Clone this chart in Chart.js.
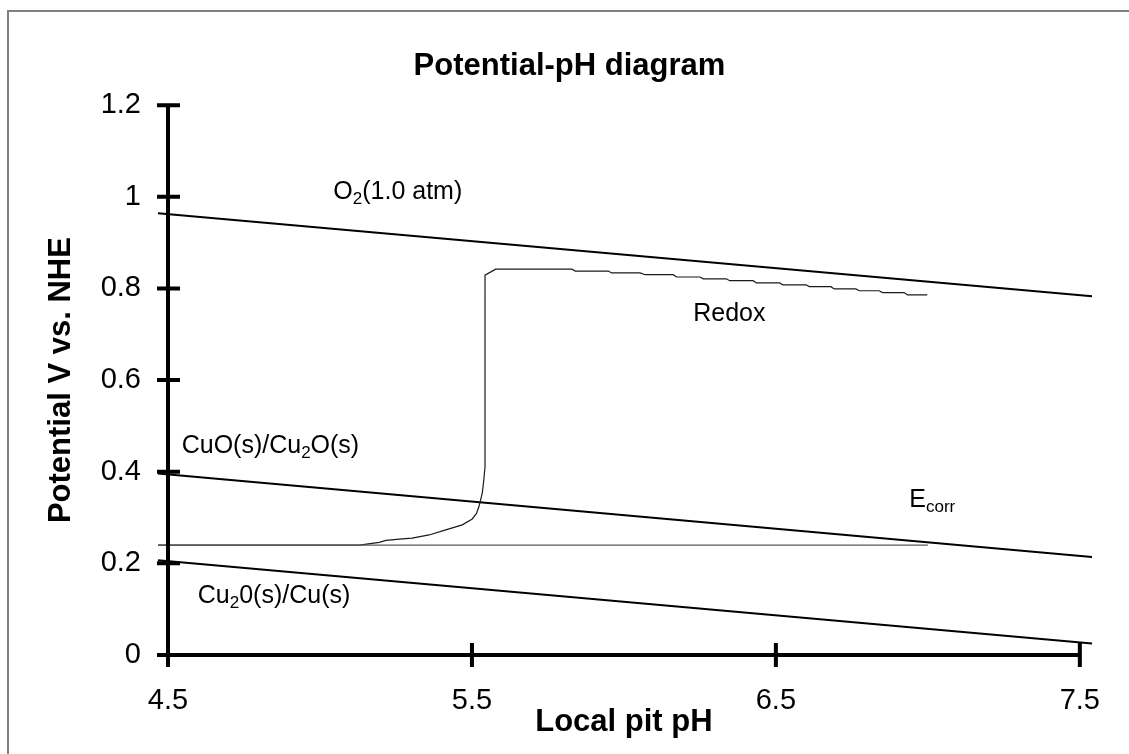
<!DOCTYPE html>
<html>
<head>
<meta charset="utf-8">
<script src="https://cdn.jsdelivr.net/npm/chart.js@4/dist/chart.umd.min.js"></script>
<style>
  html, body { margin: 0; padding: 0; background: #fff; }
  #wrap { position: relative; width: 1129px; height: 754px; }
</style>
</head>
<body>
<div id="wrap"><canvas id="c" width="1129" height="754"></canvas></div>
<script>
// ---------- data ----------
const xTickValues = [4.5, 5.5, 6.5, 7.5];
const xTickLabels = ['4.5', '5.5', '6.5', '7.5'];
const yTickValues = [0, 0.2, 0.4, 0.6, 0.8, 1.0, 1.2];
const yTickLabels = ['0', '0.2', '0.4', '0.6', '0.8', '1', '1.2'];

const o2PH = [4.467, 7.54];
const o2E = [0.964, 0.783];

const cuoPH = [4.467, 7.54];
const cuoE = [0.396, 0.214];

const cu2oPH = [4.467, 7.54];
const cu2oE = [0.207, 0.025];

const ecorrPH = [4.467, 7.0];
const ecorrE = [0.240, 0.240];

const redoxPH = [4.467, 5.130, 5.195, 5.217, 5.261, 5.303, 5.359, 5.414, 5.468, 5.501, 5.515, 5.523,
  5.534, 5.539, 5.543, 5.543, 5.578, 5.829, 5.840, 5.949, 5.959, 6.053, 6.070, 6.162, 6.173,
  6.250, 6.261, 6.337, 6.348, 6.425, 6.436, 6.512, 6.523, 6.599, 6.610, 6.681, 6.692, 6.763,
  6.774, 6.840, 6.851, 6.922, 6.933, 6.998];
const redoxE = [0.240, 0.240, 0.246, 0.250, 0.253, 0.255, 0.262, 0.273, 0.284, 0.297, 0.309, 0.324,
  0.353, 0.382, 0.411, 0.829, 0.842, 0.842, 0.838, 0.838, 0.834, 0.834, 0.830, 0.830, 0.825,
  0.825, 0.821, 0.821, 0.817, 0.817, 0.812, 0.812, 0.808, 0.808, 0.804, 0.804, 0.799, 0.799,
  0.795, 0.795, 0.791, 0.791, 0.786, 0.786];

const toPts = (xs, ys) => xs.map((x, i) => ({ x: x, y: ys[i] }));

// ---------- annotation texts (anchored in data units) ----------
const labels = [
  { x: 5.044, y: 0.995, parts: [['O'], ['2', 1], ['(1.0 atm)']] },
  { x: 6.228, y: 0.729, parts: [['Redox']] },
  { x: 4.545, y: 0.441, parts: [['CuO(s)/Cu'], ['2', 1], ['O(s)']] },
  { x: 6.939, y: 0.323, parts: [['E'], ['corr', 1]] },
  { x: 4.598, y: 0.114, parts: [['Cu'], ['2', 1], ['0(s)/Cu(s)']] }
];

const FONT = '"Liberation Sans", Arial, Helvetica, sans-serif';

const framePlugin = {
  id: 'frame',
  beforeDraw(chart) {
    const ctx = chart.ctx;
    ctx.save();
    ctx.strokeStyle = '#808080';
    ctx.lineWidth = 2;
    ctx.beginPath();
    ctx.moveTo(8, 754);
    ctx.lineTo(8, 11);
    ctx.lineTo(1129, 11);
    ctx.stroke();
    ctx.restore();
  }
};

const axesPlugin = {
  id: 'axesCross',
  afterDatasetsDraw(chart) {
    const ctx = chart.ctx;
    const xs = chart.scales.x, ys = chart.scales.y;
    const x0 = xs.getPixelForValue(xTickValues[0]);
    const xN = xs.getPixelForValue(xTickValues[xTickValues.length - 1]);
    const y0 = ys.getPixelForValue(yTickValues[0]);
    const yN = ys.getPixelForValue(yTickValues[yTickValues.length - 1]);
    ctx.save();
    ctx.strokeStyle = '#000';
    ctx.lineWidth = 4;
    ctx.lineCap = 'butt';
    ctx.beginPath();
    ctx.moveTo(x0, yN - 2); ctx.lineTo(x0, y0 + 12);
    ctx.moveTo(x0 - 11, y0); ctx.lineTo(xN + 2, y0);
    yTickValues.forEach(v => {
      const p = ys.getPixelForValue(v);
      ctx.moveTo(x0 - 11, p); ctx.lineTo(x0 + 12, p);
    });
    xTickValues.forEach(v => {
      const p = xs.getPixelForValue(v);
      ctx.moveTo(p, y0 - 12); ctx.lineTo(p, y0 + 12);
    });
    ctx.stroke();

    // annotations
    ctx.fillStyle = '#000';
    ctx.textBaseline = 'alphabetic';
    ctx.textAlign = 'left';
    labels.forEach(l => {
      let px = xs.getPixelForValue(l.x);
      const py = ys.getPixelForValue(l.y);
      l.parts.forEach(p => {
        const sub = p[1] === 1;
        ctx.font = (sub ? '17px ' : '25px ') + FONT;
        ctx.fillText(p[0], px, py + (sub ? 5 : 0));
        px += ctx.measureText(p[0]).width;
      });
    });
    ctx.restore();
  }
};

const lineDs = (pts, color, width) => ({
  data: pts,
  showLine: true,
  borderColor: color,
  backgroundColor: color,
  borderWidth: width,
  pointRadius: 0,
  pointHoverRadius: 0,
  tension: 0,
  clip: false
});

new Chart(document.getElementById('c'), {
  type: 'scatter',
  data: {
    datasets: [
      lineDs(toPts(ecorrPH, ecorrE), '#5a5a5a', 1.3),
      lineDs(toPts(redoxPH, redoxE), '#1a1a1a', 1.2),
      lineDs(toPts(o2PH, o2E), '#000', 2),
      lineDs(toPts(cuoPH, cuoE), '#000', 2),
      lineDs(toPts(cu2oPH, cu2oE), '#000', 2)
    ]
  },
  options: {
    responsive: false,
    animation: false,
    devicePixelRatio: 1,
    events: [],
    layout: { padding: { left: 10, right: 0, top: 0, bottom: 0 } },
    plugins: {
      legend: { display: false },
      tooltip: { enabled: false },
      title: {
        display: true,
        text: 'Potential-pH diagram',
        color: '#000',
        font: { family: FONT, size: 31, weight: 'bold', lineHeight: 1.2 },
        padding: { top: 48, bottom: 20 }
      }
    },
    scales: {
      x: {
        type: 'linear',
        min: 4.5,
        max: 7.5,
        afterBuildTicks: s => { s.ticks = xTickValues.map(v => ({ value: v })); },
        afterFit: s => { s.height = 99; },
        grid: { display: false, drawTicks: false },
        border: { display: false },
        ticks: {
          autoSkip: false,
          maxRotation: 0,
          padding: 29,
          color: '#000',
          font: { family: FONT, size: 29, lineHeight: 1.2 },
          callback: (v, i) => xTickLabels[i]
        },
        title: {
          display: true,
          text: 'Local pit pH',
          color: '#000',
          font: { family: FONT, size: 31, weight: 'bold', lineHeight: 1.2 },
          padding: { top: 0, bottom: 13 }
        }
      },
      y: {
        type: 'linear',
        min: 0,
        max: 1.2,
        afterBuildTicks: s => { s.ticks = yTickValues.map(v => ({ value: v })); },
        afterFit: s => { s.width = 158; },
        grid: { display: false, drawTicks: false },
        border: { display: false },
        ticks: {
          padding: 27,
          color: '#000',
          font: { family: FONT, size: 29, lineHeight: 1.2 },
          callback: (v, i) => yTickLabels[i]
        },
        title: {
          display: true,
          text: 'Potential V vs. NHE',
          color: '#000',
          font: { family: FONT, size: 31, weight: 'bold', lineHeight: 1.2 },
          padding: { top: 33, bottom: 0 }
        }
      },
      yRight: {
        type: 'linear',
        position: 'right',
        display: true,
        min: 0,
        max: 1.2,
        afterFit: s => { s.width = 47; },
        grid: { display: false, drawTicks: false },
        border: { display: false },
        ticks: { display: false }
      }
    }
  },
  plugins: [framePlugin, axesPlugin]
});
</script>
</body>
</html>
